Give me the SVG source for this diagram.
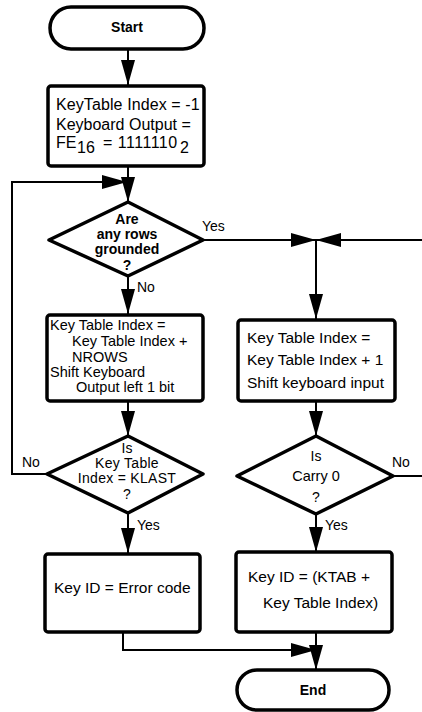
<svg xmlns="http://www.w3.org/2000/svg" width="422" height="712" viewBox="0 0 422 712">
<defs>
<style>
.shape{fill:#fff;stroke:#000;stroke-width:3.5;stroke-linejoin:round}
.line{fill:none;stroke:#000;stroke-width:2;marker-end:url(#ah)}
.plain{fill:none;stroke:#000;stroke-width:2}
text{font-family:"Liberation Sans",Arial,sans-serif;fill:#000}
.t{font-size:15.5px}
.d{font-size:14px;text-anchor:middle}
.term{font-size:14px;font-weight:bold;text-anchor:middle}
.lbl{font-size:14px}
</style>
<marker id="ah" markerUnits="userSpaceOnUse" markerWidth="26" markerHeight="14" refX="25" refY="7" orient="auto">
<path d="M0,0 L25,7 L0,14 Z" fill="#000"/>
</marker>
</defs>
<g id="connectors">
<line class="line" x1="128" y1="49" x2="128" y2="85"/>
<line class="line" x1="128" y1="166" x2="128" y2="202"/>
<polyline class="line" points="47,474 12,474 12,182 127,182"/>
<line class="line" x1="203" y1="240" x2="316" y2="240"/>
<line class="line" x1="422" y1="240" x2="316" y2="240"/>
<line class="line" x1="316" y1="240" x2="316" y2="319"/>
<line class="line" x1="128" y1="276" x2="128" y2="314"/>
<line class="line" x1="128" y1="401" x2="128" y2="436"/>
<line class="line" x1="316" y1="401" x2="316" y2="436"/>
<line class="plain" x1="393" y1="476" x2="422" y2="476"/>
<line class="line" x1="128" y1="513" x2="128" y2="553"/>
<line class="line" x1="316" y1="514" x2="316" y2="552"/>
<polyline class="line" points="123,632 123,650 316,650"/>
<line class="line" x1="316" y1="633" x2="316" y2="670"/>
<text class="lbl" x="202" y="231">Yes</text>
<text class="lbl" x="137" y="292">No</text>
<text class="lbl" x="22" y="467">No</text>
<text class="lbl" x="392" y="467">No</text>
<text class="lbl" x="137" y="530">Yes</text>
<text class="lbl" x="325" y="530">Yes</text>
</g>
<g id="start">
<rect class="shape" x="50" y="7" width="154" height="42" rx="21"/>
<text class="term" x="127" y="32">Start</text>
</g>
<g id="init">
<rect class="shape" x="48" y="86" width="156" height="80" rx="3"/>
<text class="t" x="56" y="110" style="font-size:16px;letter-spacing:0.1px">KeyTable Index = -1</text>
<text class="t" x="56" y="130" style="font-size:16px">Keyboard Output =</text>
<text class="t" x="56" y="148" style="font-size:16px">FE<tspan x="77" dy="5">16</tspan><tspan x="103" dy="-5" style="letter-spacing:0.5px">= 1111110</tspan><tspan x="180" dy="5">2</tspan></text>
</g>
<g id="rows">
<polygon class="shape" points="128,202 203,240 128,276 49,240"/>
<text class="d" x="127" y="224" font-weight="bold">Are</text>
<text class="d" x="127" y="239" font-weight="bold">any rows</text>
<text class="d" x="127" y="254" font-weight="bold">grounded</text>
<text class="d" x="127" y="270" font-weight="bold">?</text>
</g>
<g id="next-row">
<rect class="shape" x="47" y="315" width="156" height="86" rx="3"/>
<text class="t" x="50" y="330" style="font-size:14.5px">Key Table Index =</text>
<text class="t" x="72" y="346" style="font-size:14.5px">Key Table Index +</text>
<text class="t" x="72" y="362" style="font-size:14.5px">NROWS</text>
<text class="t" x="50" y="377" style="font-size:14.5px">Shift Keyboard</text>
<text class="t" x="76" y="392" style="font-size:14.5px">Output left 1 bit</text>
</g>
<g id="next-col">
<rect class="shape" x="238" y="320" width="157" height="81" rx="3"/>
<text class="t" x="247" y="343">Key Table Index =</text>
<text class="t" x="247" y="365">Key Table Index + 1</text>
<text class="t" x="247" y="388">Shift keyboard input</text>
</g>
<g id="klast">
<polygon class="shape" points="128,436 203,474 128,513 47,474"/>
<text class="d" x="127" y="453">Is</text>
<text class="d" x="127" y="468" style="letter-spacing:0.3px">Key Table</text>
<text class="d" x="127" y="483" style="letter-spacing:0.3px">Index = KLAST</text>
<text class="d" x="127" y="499">?</text>
</g>
<g id="carry">
<polygon class="shape" points="316,436 393,476 316,514 237,476"/>
<text class="d" x="316" y="461">Is</text>
<text class="d" x="316" y="481" style="font-size:14.5px">Carry 0</text>
<text class="d" x="316" y="502">?</text>
</g>
<g id="error">
<rect class="shape" x="45" y="554" width="155" height="78" rx="3"/>
<text class="t" x="54" y="593">Key ID = Error code</text>
</g>
<g id="keyid">
<rect class="shape" x="236" y="552" width="156" height="80" rx="3"/>
<text class="t" x="248" y="582">Key ID = (KTAB +</text>
<text class="t" x="263" y="608">Key Table Index)</text>
</g>
<g id="end">
<rect class="shape" x="237" y="670" width="152" height="40" rx="20"/>
<text class="term" x="313" y="695">End</text>
</g>
</svg>
